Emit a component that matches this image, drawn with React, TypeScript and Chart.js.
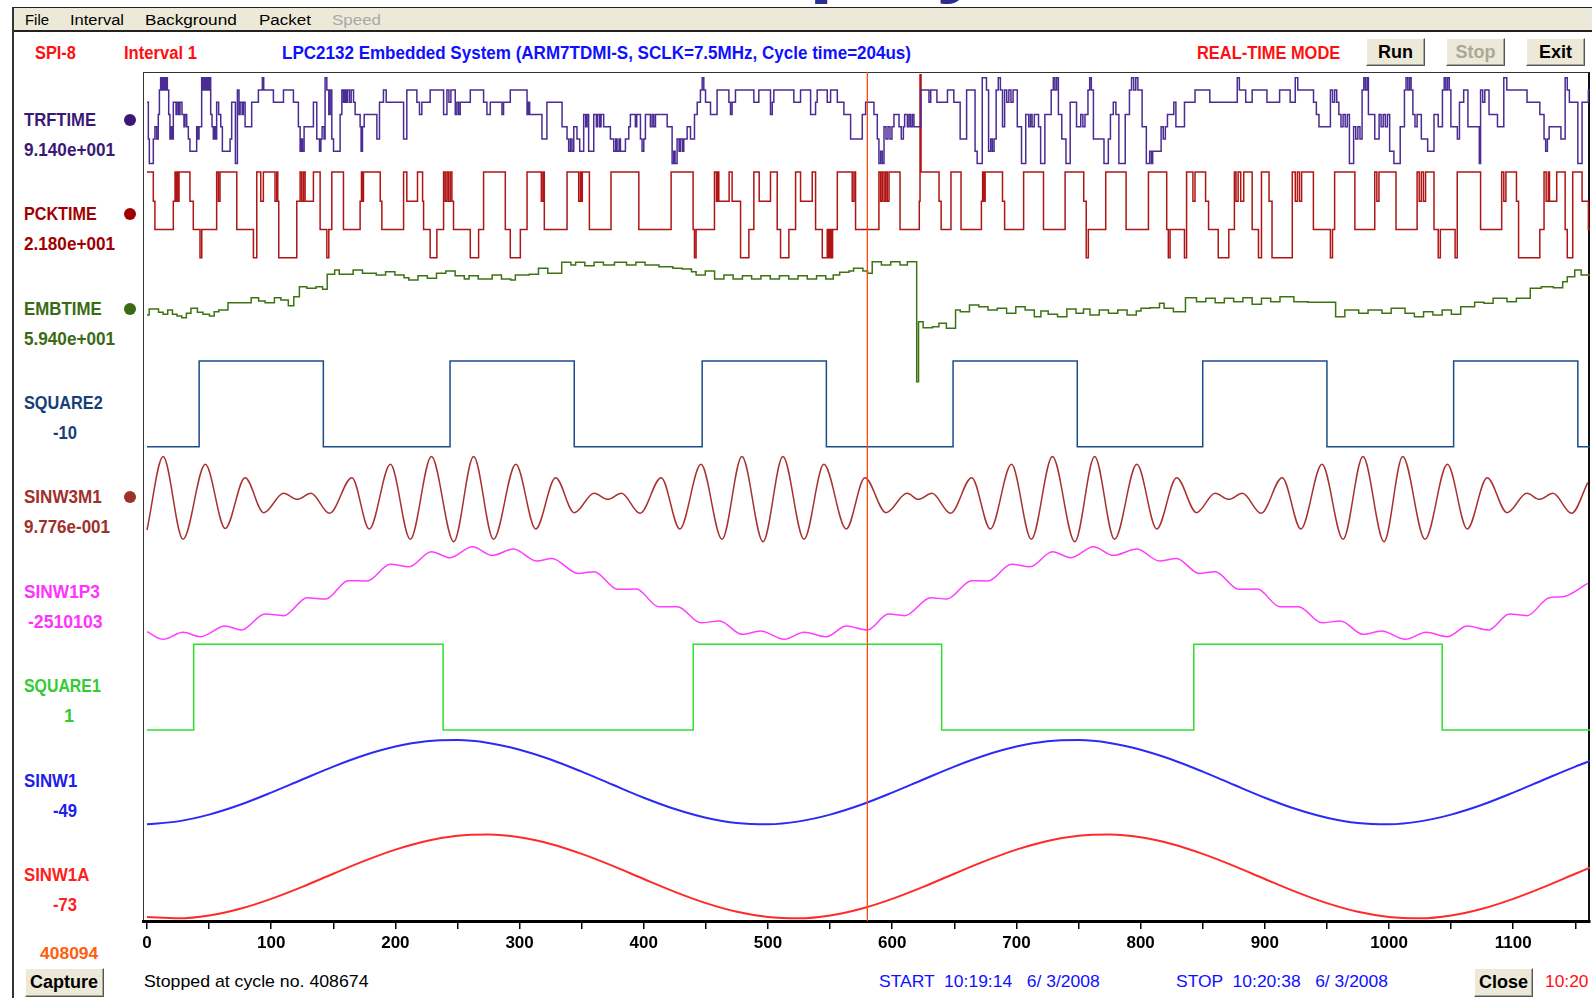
import React, { useEffect, useRef } from "react";
import { Chart, registerables } from "chart.js";

Chart.register(...registerables);

// ---------- axis / cursor ----------
const X_MIN = -3.2;
const X_MAX = 1161.8;
const X_TICK_STEP = 50;
const X_END = 1162;
const CURSOR_X = 580;

// ---------- TRFTIME (8 quantized levels) ----------
const TRF_LEVEL_PCT = [3, 16, 29, 42, 55, 68, 81, 94];
const TRF_X = [0, 1.1, 1.9, 5.1, 6.4, 7.8, 9.1, 10, 11, 12.1, 13.2, 14.2, 15.3, 16.4, 17.5, 18.5, 19.6, 20.4, 21.2, 23.4, 24.2, 25.5, 26.6, 28.2, 29.8, 30.6, 32, 33.3, 34.6, 40, 40.8, 41.9, 43.5, 44.3, 45.1, 45.9, 47, 48.1, 49.2, 50.2, 51.3, 52.4, 53.4, 54.5, 55.3, 56.1, 57.7, 59.4, 60.7, 66.9, 68.2, 71.2, 72.8, 74.1, 75, 76.6, 77.6, 79, 84.3, 89.7, 92.9, 94, 101.8, 109.9, 117.9, 121.9, 123.3, 124.4, 125.2, 126.5, 134, 136.7, 138.9, 140, 141, 142.6, 143.4, 144.8, 146.4, 147.5, 148.8, 150.2, 155.5, 156.9, 158.2, 159.3, 160.4, 161.4, 163, 164.4, 166.3, 167.6, 171.6, 172.4, 173.5, 174.9, 185.1, 187.2, 190.4, 192.6, 206.6, 209.2, 217.3, 219.4, 221.3, 228, 238.8, 241.5, 243.1, 244.7, 248.2, 249.5, 250.9, 252.2, 260.3, 271, 273.7, 276.4, 285.8, 287.1, 292.5, 306, 307, 308.1, 318, 322, 334.2, 338.2, 339.5, 340.9, 342.2, 343.6, 346.2, 348.4, 351.6, 353.2, 354.3, 355.6, 359.7, 361.8, 362.9, 364.5, 365.6, 367.7, 373.1, 375.8, 377.4, 378.5, 380.1, 381.2, 385.2, 387.9, 389.2, 393.2, 394.3, 397.3, 398.6, 400, 401.3, 405.3, 406.7, 408, 409.4, 418.8, 422.8, 424.1, 425.2, 426.8, 428.4, 429.5, 431.1, 432.2, 434.9, 437.6, 440.8, 443, 445.6, 447, 448.3, 449.7, 453.7, 459, 468.5, 469.8, 471.1, 473.8, 488.6, 492.6, 502, 503.4, 504.7, 520.8, 526.2, 534.3, 538.3, 539.6, 547.7, 550.4, 555.8, 561.1, 566.5, 575.9, 578.6, 585.3, 588, 589.3, 590.7, 592, 593.4, 595, 596.6, 598.2, 599.8, 601.4, 605.5, 607.3, 609, 610, 612.2, 613.5, 614.8, 616.2, 617.5, 622.9, 629.6, 631, 636, 644.5, 649.6, 654.7, 659.9, 666.7, 668.4, 672.5, 675.9, 677.6, 679.3, 680.6, 682, 683.7, 685.4, 687.1, 688.8, 690.5, 692.2, 693.9, 695.6, 697.3, 700.7, 704.1, 707.5, 709.9, 711.3, 712.6, 714.4, 717.8, 719.5, 722.9, 728, 729.7, 731, 732.4, 733.8, 736.5, 739.9, 743.3, 748.4, 751.8, 753.5, 755.2, 757.6, 759, 760.3, 762, 770.5, 774, 775.7, 778, 780.1, 782.5, 787.6, 791, 792.7, 794.4, 796.1, 797.8, 801.2, 804.6, 807.3, 808.7, 809.7, 816.5, 818.2, 819.9, 821.6, 826.7, 828.4, 835.3, 843.8, 855.7, 877.8, 879.5, 884.6, 889.8, 901.7, 911.9, 920.4, 924.5, 926.5, 939.2, 941.5, 943.6, 952.8, 954.5, 956.2, 957.9, 959.6, 961.3, 963, 964.7, 966.4, 968.1, 971.5, 973.2, 974.9, 976.6, 978.3, 979.7, 981, 982.4, 983.4, 988.5, 992, 993.6, 995.3, 997, 998.7, 1000.5, 1003.9, 1009, 1012.4, 1013.7, 1015.1, 1016.5, 1017.8, 1019.2, 1020.9, 1022.6, 1026, 1031.1, 1036.2, 1039.6, 1043, 1044.4, 1045.7, 1047.1, 1048.5, 1049.8, 1055, 1056.7, 1060.1, 1063.5, 1072.7, 1073.7, 1075.4, 1077.1, 1080.5, 1087.3, 1092.4, 1094.8, 1111.1, 1121.4, 1124.8, 1126.1, 1127.5, 1128.9, 1138.4, 1141.8, 1143.5, 1145.2, 1152, 1155.4, 1160.5];
const TRF_LEVEL = [5, 2, 0, 2, 3, 2, 4, 6, 7, 6, 7, 6, 7, 6, 4, 2, 3, 2, 5, 4, 5, 4, 5, 4, 3, 4, 3, 2, 1, 3, 2, 3, 6, 7, 6, 7, 6, 7, 6, 7, 4, 3, 2, 3, 2, 5, 4, 3, 1, 2, 5, 0, 6, 4, 5, 4, 5, 3, 5, 6, 7, 6, 5, 6, 5, 3, 1, 2, 1, 3, 5, 2, 1, 2, 3, 2, 7, 6, 4, 6, 2, 1, 4, 6, 5, 6, 5, 6, 5, 6, 5, 4, 3, 1, 3, 4, 2, 5, 6, 5, 2, 6, 5, 4, 5, 6, 4, 6, 5, 6, 4, 5, 4, 5, 6, 5, 4, 5, 4, 5, 6, 4, 5, 4, 2, 5, 3, 2, 1, 2, 1, 3, 2, 1, 4, 3, 4, 1, 4, 3, 4, 3, 4, 3, 2, 1, 2, 1, 2, 1, 2, 3, 4, 3, 4, 2, 1, 2, 4, 3, 4, 3, 4, 3, 0, 1, 0, 2, 1, 2, 1, 2, 3, 2, 4, 5, 6, 7, 6, 5, 4, 6, 5, 4, 5, 6, 5, 6, 4, 5, 6, 5, 6, 4, 5, 6, 5, 6, 5, 4, 2, 4, 5, 4, 2, 0, 1, 0, 3, 2, 3, 2, 3, 4, 3, 2, 3, 4, 3, 4, 3, 4, 3, 6, 5, 6, 5, 6, 5, 2, 6, 1, 0, 7, 6, 1, 2, 1, 2, 6, 7, 6, 3, 6, 5, 6, 5, 6, 3, 0, 4, 3, 4, 3, 4, 3, 0, 4, 6, 7, 6, 7, 4, 2, 0, 5, 3, 4, 3, 4, 6, 7, 6, 2, 0, 2, 4, 5, 4, 0, 4, 6, 7, 6, 7, 6, 3, 0, 1, 0, 1, 3, 2, 3, 4, 5, 3, 5, 6, 5, 7, 6, 5, 6, 5, 6, 5, 7, 6, 5, 4, 3, 6, 5, 6, 5, 4, 3, 4, 3, 4, 0, 3, 2, 3, 2, 6, 7, 6, 7, 4, 2, 4, 3, 4, 3, 4, 1, 0, 3, 6, 7, 6, 7, 6, 4, 3, 4, 2, 1, 4, 3, 6, 7, 6, 7, 6, 3, 2, 5, 6, 3, 0, 6, 5, 6, 4, 3, 7, 6, 5, 4, 2, 1, 2, 3, 2, 7, 6, 5, 0, 5, 6];

// ---------- PCKTIME (4 levels + one overflow spike) ----------
const PCK_LEVEL_PCT = [3, 33, 63, 94, 197];
const PCK_X = [0, 5.1, 6.4, 21.2, 22.6, 23.4, 24.2, 25, 25.8, 34.6, 37.3, 42.7, 44.1, 56.1, 57.5, 58.8, 72.3, 85.7, 88.4, 91.6, 93.7, 103.1, 104.5, 105.3, 106.1, 120.6, 123.3, 124.6, 126, 127.3, 134, 139.4, 144.8, 146.4, 148.8, 158.2, 171.6, 172.7, 173.5, 174.3, 187.8, 189.1, 206.6, 209.2, 217.8, 221.9, 222.7, 228, 233.4, 238.8, 240.1, 241.5, 242.8, 244.2, 245.5, 246.8, 260.3, 267, 271, 288.5, 292.5, 300.6, 306, 317.5, 318.8, 319.9, 338.2, 347.6, 349, 349.7, 350.5, 356.2, 373.6, 396, 422, 439.7, 440.8, 442.1, 456.9, 458.5, 459.6, 460.4, 468.7, 471.1, 477.9, 484.6, 488.6, 492.9, 502, 507.4, 510.1, 516.8, 522.2, 526.2, 535.6, 538.3, 543.7, 547.7, 548.8, 549.8, 550.9, 552, 555.8, 567.8, 569.2, 570.5, 589.3, 590.7, 592, 593.4, 594.7, 596, 597.4, 606.3, 621.8, 622.4, 623.2, 637.7, 639.4, 647.3, 655.4, 671.8, 672.8, 673.8, 674.8, 688.8, 690.5, 705.8, 721.8, 739.2, 754.2, 756.2, 757.9, 771.9, 788.3, 806.3, 821, 822.3, 823.7, 835.3, 837, 842.1, 843.8, 852.3, 854.7, 862.5, 871, 875.5, 876.8, 878.5, 880.6, 883, 889.8, 894.9, 897.3, 903.4, 905.8, 922.1, 924.5, 926.2, 927.9, 929.6, 939.1, 952.8, 954.5, 956.2, 972.5, 988.5, 990.2, 991.9, 1005.6, 1022.6, 1024.3, 1026, 1027.7, 1029.4, 1036.2, 1039.6, 1041.3, 1053.2, 1054.9, 1073.7, 1090.7, 1092.4, 1094.1, 1102.6, 1104.3, 1121.4, 1124.8, 1126.5, 1128.2, 1129.2, 1135, 1141.8, 1143.5, 1147.9, 1155.4, 1160.5];
const PCK_LEVEL = [3, 2, 1, 2, 3, 2, 3, 2, 3, 2, 1, 0, 1, 3, 2, 3, 1, 0, 3, 2, 3, 2, 3, 2, 0, 2, 3, 2, 3, 2, 3, 1, 0, 1, 3, 1, 2, 3, 2, 3, 2, 1, 3, 2, 3, 2, 1, 0, 1, 3, 2, 3, 2, 3, 2, 1, 0, 1, 3, 1, 0, 1, 3, 2, 3, 1, 3, 2, 3, 2, 3, 1, 3, 1, 3, 1, 0, 1, 3, 2, 3, 2, 3, 2, 0, 1, 3, 2, 3, 1, 0, 1, 3, 2, 3, 1, 0, 1, 0, 1, 0, 1, 3, 2, 3, 1, 3, 2, 3, 2, 3, 2, 3, 1, 2, 4, 3, 2, 1, 3, 1, 2, 3, 2, 3, 2, 1, 3, 1, 3, 2, 0, 1, 3, 1, 3, 1, 0, 1, 0, 3, 2, 3, 2, 1, 0, 1, 3, 2, 3, 2, 3, 1, 0, 3, 2, 0, 3, 2, 3, 2, 3, 1, 0, 1, 3, 1, 3, 2, 3, 1, 3, 2, 3, 2, 3, 1, 0, 1, 0, 3, 1, 3, 2, 3, 2, 0, 1, 3, 2, 3, 2, 3, 1, 0, 3, 2, 1];

// ---------- EMBTIME (percent of band) ----------
const EMB_X = [0, 1.8, 9.3, 13, 16.7, 20.5, 24.2, 28, 31.7, 35.4, 40.6, 45.1, 50.3, 54.1, 57.8, 65.2, 83.9, 89.9, 95.1, 102.6, 107.8, 113.8, 118.2, 122.7, 128.7, 136.1, 141.4, 145.1, 151.1, 154.8, 166, 173.5, 184.6, 192.1, 199.6, 207, 210.8, 218.2, 225.7, 233.1, 240.6, 248.1, 255.5, 259.3, 266.7, 277.9, 285.4, 292.8, 296.6, 307.8, 315.2, 322.7, 333.9, 341.3, 345.1, 352.5, 360, 367.5, 376.4, 386.1, 393.6, 401, 412.2, 423.4, 430.9, 438.4, 442.1, 449.5, 457, 464.5, 471.9, 479.4, 486.8, 494.3, 501.8, 509.2, 516.7, 524.2, 531.6, 539.1, 546.5, 552.5, 557.7, 565.2, 568.9, 576.4, 580.1, 583.9, 591.3, 598.8, 606.3, 612.2, 619.7, 621.2, 624.9, 632.4, 637.6, 643.6, 651, 654.8, 662.2, 669.7, 677.1, 684.6, 692.1, 699.5, 707, 714.4, 719.7, 725.6, 733.1, 740.6, 748, 754, 759.2, 766.7, 774.1, 781.6, 789.1, 796.5, 800.3, 807.7, 815.2, 818.9, 826.4, 836.1, 845, 852.5, 860, 867.4, 874.9, 882.3, 889.8, 897.3, 904.7, 912.2, 923.4, 934.6, 957, 964.4, 975.6, 983.1, 994.3, 1001.7, 1012.9, 1020.4, 1027.8, 1035.3, 1042.8, 1050.2, 1057.7, 1068.9, 1076.4, 1083.8, 1095, 1102.5, 1113.7, 1122.6, 1132.3, 1139.8, 1143.5, 1149.5, 1154.7];
const EMB_PCT = [42.4, 48.7, 45.2, 43.1, 47.7, 43.1, 41.3, 39.6, 44.2, 49.5, 45.2, 43.1, 41.3, 45.9, 47.7, 55.5, 60.8, 57.2, 55.5, 60.8, 58.3, 52.3, 61.8, 72.4, 70.7, 72.4, 69.6, 85.5, 90.1, 85.5, 90.1, 86.6, 84.8, 88.3, 84.8, 82, 79.5, 84.1, 81.3, 86.6, 89, 84.1, 80.6, 84.1, 80.6, 84.8, 80.6, 79.5, 84.8, 85.5, 91.9, 86.6, 98.2, 95.4, 98.2, 94.7, 98.2, 95.4, 98.2, 95.4, 98.2, 95.4, 93.6, 91.9, 91.2, 88.3, 84.8, 89, 80.6, 84.8, 80.6, 84.1, 80.6, 84.1, 80.6, 84.1, 80.6, 84.1, 80.6, 84.1, 80.6, 84.8, 87.6, 89, 91.9, 89, 86.6, 98.9, 95.4, 98.9, 95.4, 98.9, -28.3, 35.3, 29, 30, 33.6, 28.3, 47.7, 45.9, 53, 51.2, 47.7, 49.5, 44.2, 51.2, 47.7, 40.6, 46.6, 43.1, 40.6, 48.7, 44.2, 48.7, 42.4, 47.7, 44.2, 47.7, 42.4, 46.6, 49.5, 50.2, 54.8, 49.5, 45.9, 60.8, 56.5, 60.1, 55.5, 60.1, 56.5, 60.8, 53.7, 60.1, 56.5, 61.8, 56.5, 55.8, 40.6, 47.7, 44.2, 47.7, 44.2, 49.5, 44.2, 40.6, 45.9, 42.4, 47.7, 43.1, 51.2, 55.8, 54.8, 60.1, 56.5, 60.1, 70.7, 72.4, 71.4, 77.7, 83, 90.1, 84.8];

// ---------- SQUARE2 / SQUARE1 ----------
const SQ2_LEVEL_PCT = [2.8, 93.6];
const SQ2_X = [0, 42, 142, 244, 344, 447, 547, 649, 749, 850, 950, 1052, 1152];
const SQ2_LEVEL = [0, 1, 0, 1, 0, 1, 0, 1, 0, 1, 0, 1, 0];
const SQ1_LEVEL_PCT = [2.4, 93.3];
const SQ1_X = [0, 37.6, 238.4, 439.8, 639.8, 842.8, 1042.8];
const SQ1_LEVEL = [0, 1, 0, 1, 0, 1, 0];

// ---------- SINW3M1 (extrema, percent of band) ----------
const SW3_X = [0, 13, 29, 47, 63, 79, 94, 110, 121, 132, 147, 165, 179, 196, 212, 229, 247, 263, 279, 297, 313, 329, 344, 360, 371, 382, 397, 414, 429, 446, 463, 479, 496, 512, 529, 545, 563, 578, 595, 612, 621, 632, 647, 664, 679, 696, 712, 729, 747, 763, 779, 797, 813, 829, 845, 860, 871, 882, 897, 914, 929, 946, 963, 979, 996, 1011, 1029, 1047, 1063, 1079, 1095, 1111, 1121, 1132, 1147, 1160];
const SW3_PCT = [14.5, 92.3, 4.6, 84.1, 16.1, 70, 32.9, 53.4, 47, 53.4, 32.2, 70, 15.6, 84.1, 4.6, 92.3, 2.1, 92.3, 4.6, 84.1, 15.6, 70, 32.9, 53.4, 47, 53.4, 32.2, 70, 15.6, 84.1, 4.6, 92.3, 2.1, 92.3, 4.6, 84.1, 15.6, 70, 32.9, 53.4, 47, 53.4, 32.2, 70, 15.6, 84.1, 4.6, 92.3, 2.1, 92.3, 4.6, 84.1, 15.6, 70, 32.9, 53.4, 47, 53.4, 32.2, 70, 15.6, 84.1, 4.6, 92.3, 2.1, 92.3, 4.6, 84.1, 15.6, 70, 32.9, 53.4, 47, 53.4, 32.2, 64.7];

// ---------- SINW1P3 ----------
const SW1P3_X = [0, 13, 29, 43, 63, 76, 95, 110, 129, 144, 162, 177, 196, 211, 229, 244, 262, 278, 295, 314, 326, 347, 360, 379, 394, 412, 427, 446, 461, 479, 494, 513, 529, 547, 563, 580, 597, 610, 631, 644, 664, 677, 696, 711, 729, 744, 762, 778, 797, 815, 829, 847, 860, 879, 894, 912, 927, 946, 961, 979, 994, 1013, 1030, 1047, 1063, 1080, 1097, 1111, 1129, 1140, 1160];
const SW1P3_PCT = [6.7, -1.4, 6, 1.4, 12.7, 8.5, 25.4, 23.7, 42.7, 41.3, 60.8, 60.4, 78.1, 75.6, 91.5, 85.1, 96.8, 87.6, 94.3, 81.6, 84.4, 68.5, 70.3, 51.6, 51.9, 33.2, 33.2, 16.2, 18, 3.9, 7.4, -1.4, 6, 1.4, 12.7, 8.5, 25.4, 23.7, 42.7, 41.3, 60.8, 60.4, 78.1, 75.6, 91.5, 85.1, 96.8, 87.6, 94.3, 81.6, 84.4, 68.5, 70.3, 51.6, 51.9, 33.2, 33.2, 16.2, 18, 3.9, 7.4, -1.4, 6, 1.4, 12.7, 8.5, 25.4, 23.7, 42.7, 43.8, 57.9];

// ---------- SINW1 / SINW1A ----------
const SW1_X = [0, 25, 50, 75, 100, 125, 150, 175, 200, 225, 250, 275, 300, 325, 350, 375, 400, 425, 450, 475, 500, 525, 550, 575, 600, 625, 650, 675, 700, 725, 750, 775, 800, 825, 850, 875, 900, 925, 950, 975, 1000, 1025, 1050, 1075, 1100, 1125, 1150, 1162];
const SW1_PCT = [2.6, 5.6, 12.8, 23.2, 36.1, 50, 63.7, 75.7, 84.9, 90.5, 91.8, 88.8, 81.6, 71.2, 58.3, 44.4, 30.7, 18.7, 9.5, 3.9, 2.6, 5.6, 12.8, 23.2, 36.1, 50, 63.7, 75.7, 84.9, 90.5, 91.8, 88.8, 81.6, 71.2, 58.3, 44.4, 30.7, 18.7, 9.5, 3.9, 2.6, 5.6, 12.8, 23.2, 36.1, 50, 63.7, 69.7];
const SW1A_X = [0, 25, 50, 75, 100, 125, 150, 175, 200, 225, 250, 275, 300, 325, 350, 375, 400, 425, 450, 475, 500, 525, 550, 575, 600, 625, 650, 675, 700, 725, 750, 775, 800, 825, 850, 875, 900, 925, 950, 975, 1000, 1025, 1050, 1075, 1100, 1125, 1150, 1162];
const SW1A_PCT = [4.2, 2.9, 5.9, 13, 23.5, 36.2, 50.1, 63.7, 75.7, 84.9, 90.4, 91.7, 88.7, 81.6, 71.1, 58.4, 44.5, 30.9, 18.9, 9.7, 4.2, 2.9, 5.9, 13, 23.5, 36.2, 50.1, 63.7, 75.7, 84.9, 90.4, 91.7, 88.7, 81.6, 71.1, 58.4, 44.5, 30.9, 18.9, 9.7, 4.2, 2.9, 5.9, 13, 23.5, 36.2, 50.1, 56.7];

// ---------- channel names / readouts ----------
const CH_NAMES = ["TRFTIME", "PCKTIME", "EMBTIME", "SQUARE2", "SINW3M1", "SINW1P3", "SQUARE1", "SINW1", "SINW1A"];
const CH_VALUES = ["9.140e+001", "2.180e+001", "5.940e+001", "-10", "9.776e-001", "-2510103", "1", "-49", "-73"];
const CH_HAS_DOT = [true, true, true, false, true, false, false, false, false];
const CH_LABEL_COLORS = ["#3A1878", "#A00000", "#3A6B12", "#163F78", "#A0302A", "#FF33FF", "#33CC33", "#2020E8", "#FF2020"];
const CH_LINE_COLORS = ["#4B2C94", "#B01515", "#3E7314", "#1C4C8A", "#A83232", "#FF3CFF", "#2EE02E", "#2B2BF5", "#FF2A2A"];
// [left, width] of each readout text (width 0 = natural width)
const CH_VALUE_BOX = [[24, 91], [24, 91], [24, 91], [53, 24], [24, 86], [28, 74.5], [64, 0], [53, 24], [53, 24]];
const CH_NAME_W = [72, 72.7, 77.7, 78.7, 77.7, 76, 76.7, 53.3, 65.3];

const MENU_ITEMS = ["File", "Interval", "Background", "Packet", "Speed"];
const MENU_BOX = [[24.5, 24], [70, 54], [145.4, 91.8], [259, 52], [331.6, 49]];

// ---------- fonts ----------
function fontExists(name: string) {
  const c = document.createElement("canvas").getContext("2d")!;
  const s = "abcdefghijklmnopqrstuvwxyz0123456789ABCDEFGHIJKLMNOP";
  c.font = "40px monospace";
  const a = c.measureText(s).width;
  c.font = `40px "${name}", monospace`;
  const b = c.measureText(s).width;
  return Math.abs(a - b) > 0.5;
}
const HAS_NARROW = fontExists("Liberation Sans Narrow");
const FAMILY = HAS_NARROW ? '"Liberation Sans Narrow", "Liberation Sans", Arial, sans-serif' : '"Liberation Sans", Arial, sans-serif';
const measureCtx = document.createElement("canvas").getContext("2d")!;
function textW(text: string, weight: string, size: number) {
  measureCtx.font = `${weight} ${size}px ${FAMILY}`;
  return measureCtx.measureText(text).width;
}

function T({ text, left, width, cy, size, color, weight = "bold" }: any) {
  const w = textW(text, weight, size);
  const sx = width > 0 ? width / w : 1;
  return (
    <div
      style={{
        position: "absolute",
        left,
        top: cy - size / 2,
        height: size,
        fontFamily: FAMILY,
        fontSize: size,
        fontWeight: weight as any,
        lineHeight: `${size}px`,
        color,
        whiteSpace: "pre",
        transform: `scaleX(${sx})`,
        transformOrigin: "0 50%",
      }}
    >
      {text}
    </div>
  );
}

function Btn({ label, left, top, width, height, color = "#000" }: any) {
  return (
    <div
      style={{
        position: "absolute",
        left,
        top,
        width,
        height,
        boxSizing: "border-box",
        background: "#ECE9D8",
        borderStyle: "solid",
        borderWidth: 1,
        borderColor: "#FFFFFF #555 #555 #FFFFFF",
        boxShadow: "inset -1px -1px 0 #ACA899",
        display: "flex",
        alignItems: "center",
        justifyContent: "center",
        fontFamily: FAMILY,
        fontWeight: "bold",
        fontSize: 18,
        color,
      }}
    >
      {label}
    </div>
  );
}

// ---------- data builders ----------
const bandY = (band: number, pct: number) => 8 - band + pct / 100;

function stepSeries(xs: number[], vals: number[], band: number) {
  const pts: { x: number; y: number }[] = [];
  for (let i = 0; i < xs.length; i++) {
    if (i > 0) pts.push({ x: xs[i], y: bandY(band, vals[i - 1]) });
    pts.push({ x: xs[i], y: bandY(band, vals[i]) });
  }
  pts.push({ x: X_END, y: bandY(band, vals[vals.length - 1]) });
  return pts;
}
function smoothSeries(xs: number[], vals: number[], band: number) {
  return xs.map((x, i) => ({ x, y: bandY(band, vals[i]) }));
}

const PLOT_L = 143;
const PLOT_T = 72;
const PLOT_R = 1589.5;
const PLOT_B = 921;
const PAD = 10;
const AXIS_H = 40;
const CANVAS_L = PLOT_L - PAD;
const CANVAS_T = PLOT_T - PAD;
const CANVAS_W = Math.round(PLOT_R + PAD - CANVAS_L);
const CANVAS_H = PLOT_B + AXIS_H - CANVAS_T;

export default function App() {
  const ref = useRef<HTMLCanvasElement | null>(null);

  useEffect(() => {
    if (!ref.current) return;
    const line = (data: any, color: string, extra: any = {}) => ({
      data,
      borderColor: color,
      borderWidth: 1.5,
      pointRadius: 0,
      pointHoverRadius: 0,
      fill: false,
      tension: 0,
      ...extra,
    });
    const smooth = { cubicInterpolationMode: "monotone" };
    const chart = new Chart(ref.current, {
      type: "line",
      data: {
        datasets: [
          line([{ x: CURSOR_X, y: 0 }, { x: CURSOR_X, y: 9 }], "#FF4A0A", { borderWidth: 1.3 }),
          line(stepSeries(TRF_X, TRF_LEVEL.map((l) => TRF_LEVEL_PCT[l]), 0), CH_LINE_COLORS[0]),
          line(stepSeries(PCK_X, PCK_LEVEL.map((l) => PCK_LEVEL_PCT[l]), 1), CH_LINE_COLORS[1]),
          line(stepSeries(EMB_X, EMB_PCT, 2), CH_LINE_COLORS[2]),
          line(stepSeries(SQ2_X, SQ2_LEVEL.map((l) => SQ2_LEVEL_PCT[l]), 3), CH_LINE_COLORS[3]),
          line(smoothSeries(SW3_X, SW3_PCT, 4), CH_LINE_COLORS[4], smooth),
          line(smoothSeries(SW1P3_X, SW1P3_PCT, 5), CH_LINE_COLORS[5], smooth),
          line(stepSeries(SQ1_X, SQ1_LEVEL.map((l) => SQ1_LEVEL_PCT[l]), 6), CH_LINE_COLORS[6]),
          line(smoothSeries(SW1_X, SW1_PCT, 7), CH_LINE_COLORS[7], { ...smooth, borderWidth: 2 }),
          line(smoothSeries(SW1A_X, SW1A_PCT, 8), CH_LINE_COLORS[8], { ...smooth, borderWidth: 2 }),
        ],
      },
      options: {
        animation: false,
        responsive: false,
        maintainAspectRatio: false,
        events: [],
        layout: { padding: { left: PAD, right: PAD, top: PAD, bottom: 0 } },
        plugins: { legend: { display: false }, tooltip: { enabled: false }, title: { display: false } },
        scales: {
          x: {
            type: "linear",
            min: X_MIN,
            max: X_MAX,
            border: { display: true, color: "#000", width: 3 },
            grid: { display: true, drawOnChartArea: false, drawTicks: true, tickLength: 8, color: "#000", lineWidth: 1.5 },
            ticks: {
              stepSize: X_TICK_STEP,
              includeBounds: false,
              autoSkip: false,
              maxRotation: 0,
              minRotation: 0,
              padding: 4,
              color: "#000",
              font: HAS_NARROW
                ? { family: '"Liberation Sans Narrow"', size: 21, weight: "bold" }
                : { family: '"Liberation Sans"', size: 17, weight: "bold" },
              callback: (v: any) => (Number(v) % 100 === 0 ? String(v) : ""),
            },
            afterFit: (s: any) => {
              s.height = AXIS_H;
            },
          },
          y: { type: "linear", min: 0, max: 9, display: false },
        },
      } as any,
    });
    return () => chart.destroy();
  }, []);

  const nameY = (i: number) => 119.7 + i * 94.4;

  return (
    <div style={{ position: "absolute", left: 0, top: 0, width: 1592, height: 998, overflow: "hidden", background: "#fff" }}>
      {/* cut-off window title above the frame */}
      <svg style={{ position: "absolute", left: 0, top: 0 }} width={1592} height={8}>
        <text x={672} y={-14} fontFamily='"Liberation Sans", Arial, sans-serif' fontWeight="bold" fontSize={88} fill="#2A2F8F">
          Display
        </text>
      </svg>
      {/* menu bar */}
      <div style={{ position: "absolute", left: 13, top: 7, width: 1592, height: 25, boxSizing: "border-box", background: "#ECE9D8", borderTop: "1px solid #222", borderBottom: "2px solid #222" }} />
      {MENU_ITEMS.map((m, i) => (
        <T key={m} text={m} left={MENU_BOX[i][0]} width={MENU_BOX[i][1]} cy={19.5} size={15.5} weight="normal" color={i === 4 ? "#A8A8A8" : "#000"} />
      ))}
      {/* window left border */}
      <div style={{ position: "absolute", left: 12, top: 7, width: 2, height: 991, background: "#333" }} />

      {/* header */}
      <T text="SPI-8" left={34.7} width={40.8} cy={53.3} size={18} color="#FF1010" />
      <T text="Interval 1" left={123.5} width={72.9} cy={53.3} size={18} color="#FF1010" />
      <T text="LPC2132 Embedded System (ARM7TDMI-S, SCLK=7.5MHz, Cycle time=204us)" left={282} width={629} cy={53.3} size={18} color="#1010FF" />
      <T text="REAL-TIME MODE" left={1196.7} width={143.2} cy={53.3} size={18} color="#FF1010" />
      <Btn label="Run" left={1366} top={38} width={59} height={28} />
      <Btn label="Stop" left={1446} top={38} width={59} height={28} color="#ACA899" />
      <Btn label="Exit" left={1526} top={38} width={59} height={28} />

      {/* channel labels */}
      {CH_NAMES.map((n, i) => (
        <React.Fragment key={n}>
          <T text={n} left={24} width={CH_NAME_W[i]} cy={nameY(i)} size={18} color={CH_LABEL_COLORS[i]} />
          <T text={CH_VALUES[i]} left={CH_VALUE_BOX[i][0]} width={CH_VALUE_BOX[i][1]} cy={nameY(i) + 30} size={18} color={CH_LABEL_COLORS[i]} />
          {CH_HAS_DOT[i] && (
            <div style={{ position: "absolute", left: 129.5 - 6, top: nameY(i) - 6, width: 12, height: 12, borderRadius: 6, background: CH_LABEL_COLORS[i] }} />
          )}
        </React.Fragment>
      ))}

      {/* plot frame */}
      <div style={{ position: "absolute", left: PLOT_L, top: PLOT_T, width: PLOT_R - PLOT_L, height: PLOT_B - PLOT_T, boxSizing: "border-box", borderLeft: "1px solid #333", borderTop: "1px solid #333", borderRight: "2px solid #111" }} />

      {/* chart */}
      <canvas ref={ref} width={CANVAS_W} height={CANVAS_H} style={{ position: "absolute", left: CANVAS_L, top: CANVAS_T, width: CANVAS_W, height: CANVAS_H }} />

      {/* bottom */}
      <T text="408094" left={40} width={58.3} cy={953.3} size={17} color="#FF6010" />
      <Btn label="Capture" left={24.5} top={968} width={79} height={29} />
      <T text="Stopped at cycle no. 408674" left={143.9} width={224.5} cy={981} size={17} weight="normal" color="#000" />
      <T text="START  10:19:14   6/ 3/2008" left={878.5} width={221} cy={981} size={17} weight="normal" color="#1010FF" />
      <T text="STOP  10:20:38   6/ 3/2008" left={1176.2} width={212.3} cy={981} size={17} weight="normal" color="#1010FF" />
      <Btn label="Close" left={1474} top={968} width={59} height={29} />
      <T text="10:20" left={1544.5} width={43.5} cy={981} size={17} weight="normal" color="#FF1010" />
    </div>
  );
}
